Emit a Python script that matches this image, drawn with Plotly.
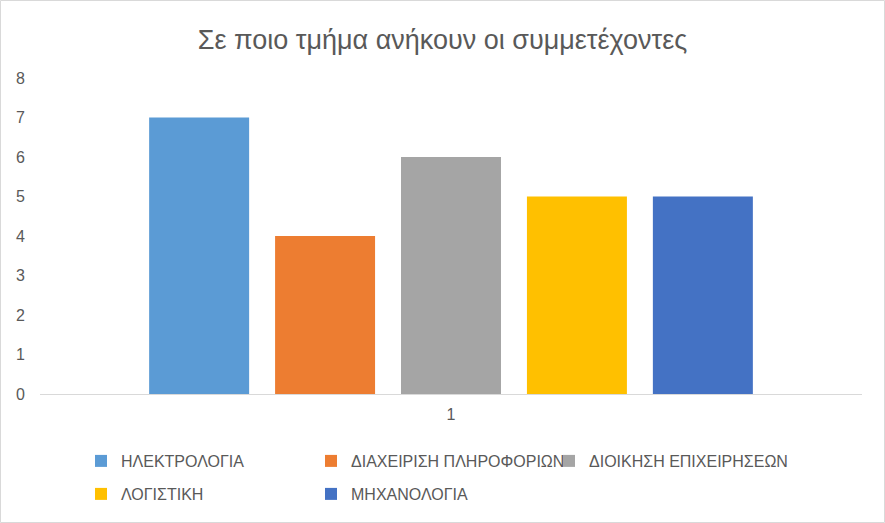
import plotly.graph_objects as go

categories = ["1"]
series_names = ["ΗΛΕΚΤΡΟΛΟΓΙΑ", "ΔΙΑΧΕΙΡΙΣΗ ΠΛΗΡΟΦΟΡΙΩΝ", "ΔΙΟΙΚΗΣΗ ΕΠΙΧΕΙΡΗΣΕΩΝ", "ΛΟΓΙΣΤΙΚΗ", "ΜΗΧΑΝΟΛΟΓΙΑ"]
series_values = [[7], [4], [6], [5], [5]]
colors = ["#5B9BD5", "#ED7D31", "#A5A5A5", "#FFC000", "#4472C4"]
title = "Σε ποιο τμήμα ανήκουν οι συμμετέχοντες"

W, H = 885, 523
ml, mr, mt, mb = 40, 23, 78, 129
pw, ph = W - ml - mr, H - mt - mb

font = "Liberation Sans, Arial, sans-serif"

# legend item text start (px) and row centre (px)
leg_pos = [(121, 461), (351, 461), (589, 461), (121, 494), (351, 494)]

fig = go.Figure()
legends = {}
for i, (name, vals, c) in enumerate(zip(series_names, series_values, colors)):
    key = "legend" if i == 0 else f"legend{i + 1}"
    fig.add_trace(go.Bar(x=categories, y=vals, name=name, marker_color=c, marker_line_width=0,
                         legend=key))
    tx, ty = leg_pos[i]
    legends[key] = dict(orientation="h", xanchor="left", yanchor="middle",
                        x=(tx - 40 - ml) / pw, y=-(ty - (H - mb)) / ph,
                        bgcolor="rgba(0,0,0,0)",
                        font=dict(family=font, size=16, color="#595959"))

fig.update_layout(
    width=W, height=H,
    margin=dict(l=ml, r=mr, t=mt, b=mb, autoexpand=False),
    paper_bgcolor="white", plot_bgcolor="white",
    barmode="group", bargap=0.234, bargroupgap=0.206,
    title=dict(text=title, x=0.5, xanchor="center", y=1 - 40 / H, yanchor="middle",
               font=dict(family=font, size=27, color="#595959")),
    font=dict(family=font, size=16, color="#595959"),
    showlegend=True,
    **legends,
)
fig.update_xaxes(showline=True, linecolor="#D9D9D9", linewidth=1, showgrid=False, ticks="",
                 tickfont=dict(size=16, color="#595959"), ticklabelstandoff=6)
fig.update_yaxes(range=[0, 8], dtick=1, showgrid=False, showline=False, zeroline=False, ticks="",
                 tickfont=dict(size=16, color="#595959"), ticklabelstandoff=14)
fig.add_shape(type="rect", xref="paper", yref="paper",
              x0=(0.5 - ml) / pw, x1=(W - 0.5 - ml) / pw,
              y0=-(mb - 0.5) / ph, y1=1 + (mt - 0.5) / ph,
              line=dict(color="#D9D9D9", width=1), fillcolor="rgba(0,0,0,0)", layer="below")
fig.write_html("out.html")
